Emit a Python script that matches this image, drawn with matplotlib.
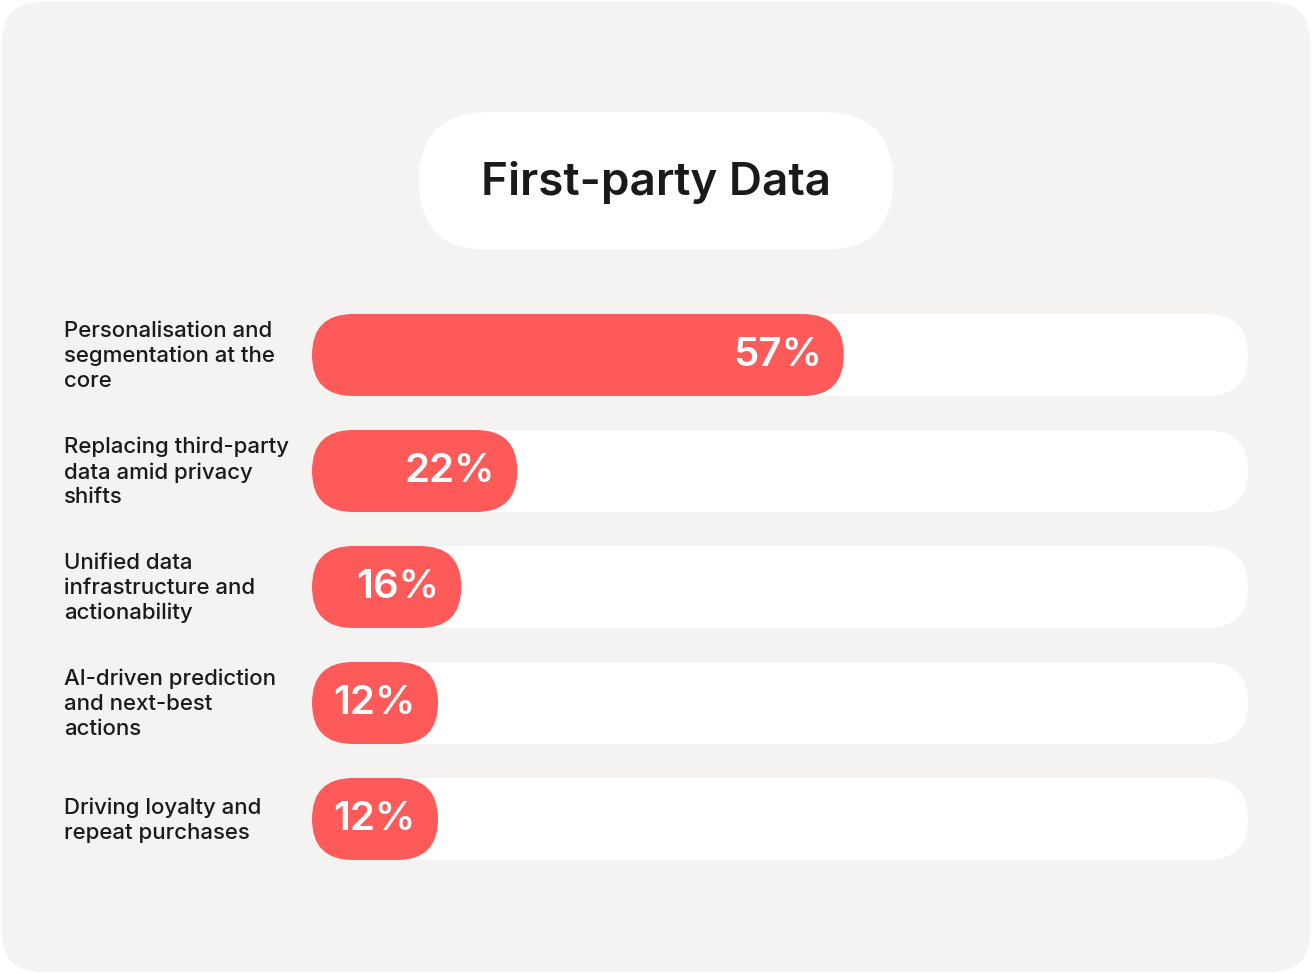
import matplotlib
matplotlib.use("Agg")
import matplotlib.pyplot as plt
from matplotlib.patches import FancyBboxPatch

title = "First-party Data"
categories = [
    "Personalisation and\nsegmentation at the\ncore",
    "Replacing third-party\ndata amid privacy\nshifts",
    "Unified data\ninfrastructure and\nactionability",
    "AI-driven prediction\nand next-best\nactions",
    "Driving loyalty and\nrepeat purchases",
]
values = [57, 22, 16, 12, 12]

W, H = 1312, 974
fig = plt.figure(figsize=(W / 100, H / 100), dpi=100)
fig.patch.set_facecolor("white")
ax = fig.add_axes([0, 0, 1, 1])
ax.set_xlim(0, W)
ax.set_ylim(H, 0)
ax.set_aspect("equal")
ax.axis("off")

FONT = ["Inter", "DejaVu Sans"]
RED = "#FF5A5A"

# card background
ax.add_patch(FancyBboxPatch((2, 2), W - 4, H - 4, boxstyle="round,pad=0,rounding_size=40",
                            fc="#F4F3F1", ec="none"))
# title pill
ax.add_patch(FancyBboxPatch((419, 112), 474, 138, boxstyle="round,pad=0,rounding_size=69",
                            fc="white", ec="none"))
ax.text(656, 183, title, ha="center", va="center", fontsize=33, fontweight="semibold",
        color="#1a1a1a", family=FONT)

x0, x1 = 312, 1248
full = x1 - x0
bh = 82
for i, (cat, v) in enumerate(zip(categories, values)):
    cy = 355 + i * 116
    ax.add_patch(FancyBboxPatch((x0, cy - bh / 2), full, bh,
                                boxstyle="round,pad=0,rounding_size=41", fc="white", ec="none"))
    w = max(v / 100 * (1245 - x0), 126)
    ax.add_patch(FancyBboxPatch((x0, cy - bh / 2), w, bh,
                                boxstyle="round,pad=0,rounding_size=41", fc=RED, ec="none"))
    ax.text(x0 + w - 22, cy + 1, f"{v}%", ha="right", va="center", fontsize=29,
            fontweight="semibold", color="white", family=FONT)
    ax.text(64, cy + 1, cat, ha="left", va="center", fontsize=16, fontweight="medium",
            color="#1a1a1a", family=FONT, linespacing=1.3)

fig.savefig("out.png", dpi=100, facecolor=fig.get_facecolor())
